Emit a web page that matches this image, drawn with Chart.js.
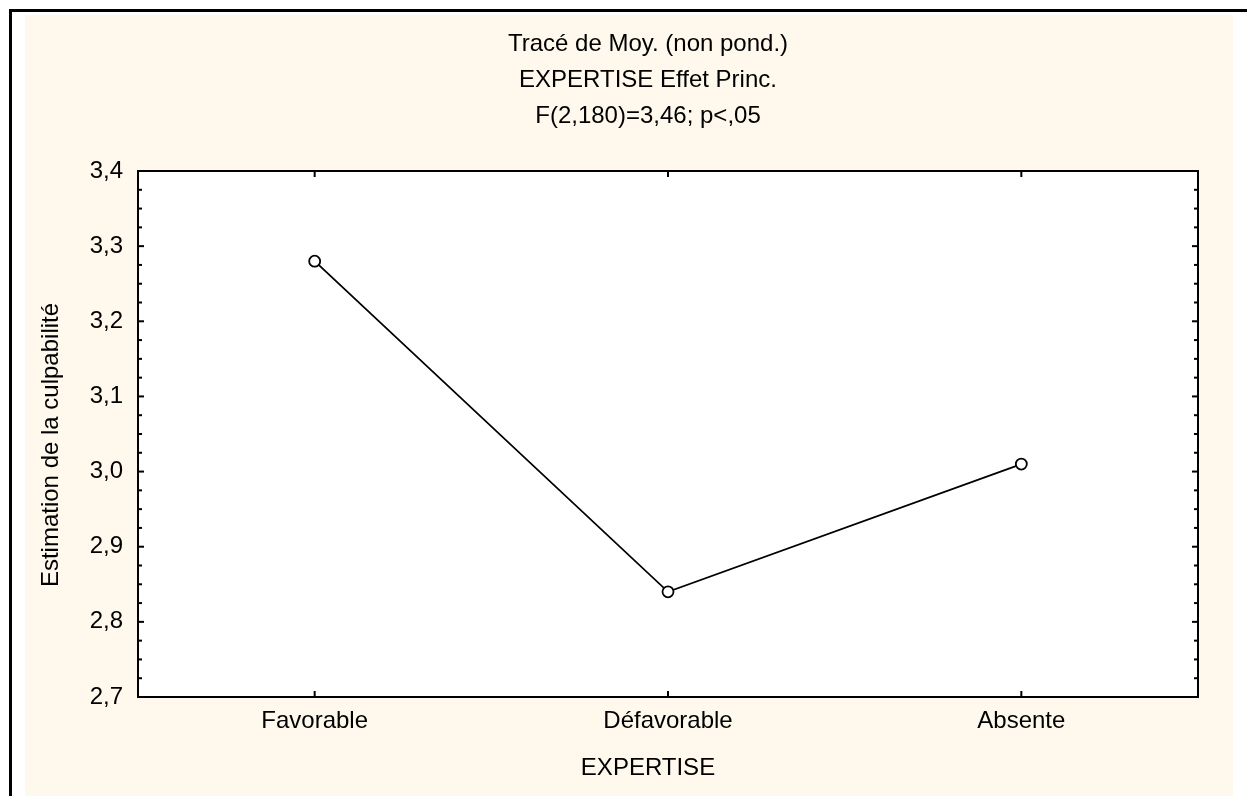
<!DOCTYPE html>
<html>
<head>
<meta charset="utf-8">
<script src="https://cdn.jsdelivr.net/npm/chart.js@4.4.1/dist/chart.umd.min.js"></script>
<style>
  html, body { margin: 0; padding: 0; background: #fff; overflow: hidden; width: 1247px; height: 796px; }
  #frame { position: absolute; left: 9px; top: 9px; width: 1300px; height: 900px; border-left: 3px solid #000; border-top: 3px solid #000; }
  #paper { position: absolute; left: 25px; top: 15px; width: 1208px; height: 800px; background: #fff9ed; }
  #chart { position: absolute; left: 0; top: 0; }
</style>
</head>
<body>
<div id="frame"></div>
<div id="paper"></div>
<canvas id="chart" width="1266" height="796"></canvas>
<script>
const titleLines = ['Tracé de Moy. (non pond.)', 'EXPERTISE Effet Princ.', 'F(2,180)=3,46; p<,05'];
const categories = ['Favorable', 'Défavorable', 'Absente'];
const means = [3.28, 2.84, 3.01];
const yTicks = [2.7, 2.8, 2.9, 3.0, 3.1, 3.2, 3.3, 3.4];
const yTickLabels = ['2,7', '2,8', '2,9', '3,0', '3,1', '3,2', '3,3', '3,4'];
const xTitle = 'EXPERTISE';
const yTitle = 'Estimation de la culpabilité';

const FONT = "'Liberation Sans', Arial, sans-serif";
Chart.defaults.font.family = FONT;
Chart.defaults.color = '#000';

// white plot box, black frame and inward ticks on every side
const plotFrame = {
  id: 'plotFrame',
  beforeDraw(chart) {
    const { ctx, chartArea: a } = chart;
    ctx.save();
    ctx.fillStyle = '#fff';
    ctx.fillRect(a.left, a.top, a.right - a.left, a.bottom - a.top);
    ctx.restore();
  },
  afterDatasetsDraw(chart) {
    const { ctx, chartArea: a } = chart;
    const y = chart.scales.y, x = chart.scales.x;
    ctx.save();
    ctx.strokeStyle = '#000';
    ctx.lineWidth = 2;
    const tick = (x0, y0, x1, y1) => { ctx.beginPath(); ctx.moveTo(x0, y0); ctx.lineTo(x1, y1); ctx.stroke(); };
    for (let i = 0; i < yTicks.length; i++) {
      const py = y.getPixelForValue(yTicks[i]);
      tick(a.left, py, a.left + 6, py);
      tick(a.right, py, a.right - 6, py);
      if (i < yTicks.length - 1) {
        const step = (yTicks[i + 1] - yTicks[i]) / 4;
        for (let k = 1; k < 4; k++) {
          const my = y.getPixelForValue(yTicks[i] + k * step);
          tick(a.left, my, a.left + 4, my);
          tick(a.right, my, a.right - 4, my);
        }
      }
    }
    categories.forEach((c, i) => {
      const px = x.getPixelForValue(i);
      tick(px, a.bottom, px, a.bottom - 6);
      tick(px, a.top, px, a.top + 6);
    });
    ctx.strokeRect(a.left, a.top, a.right - a.left, a.bottom - a.top);
    ctx.restore();
  },
  afterDraw(chart) {
    // axis titles: x centred under the whole chart like the heading,
    // y a little below the middle of the plot box
    const { ctx, chartArea: a } = chart;
    const tb = chart.titleBlock;
    const cx = (tb.left + tb.right) / 2;
    ctx.save();
    ctx.font = '24px ' + FONT;
    ctx.fillStyle = '#000';
    ctx.textAlign = 'center';
    ctx.textBaseline = 'middle';
    ctx.fillText(xTitle, cx, chart.scales.x.bottom - 28);
    ctx.translate(chart.scales.y.left + 21, (a.top + a.bottom) / 2 + 11);
    ctx.rotate(-Math.PI / 2);
    ctx.fillText(yTitle, 0, 0);
    ctx.restore();
  }
};

new Chart(document.getElementById('chart'), {
  type: 'line',
  data: {
    labels: categories,
    datasets: [{
      data: means,
      borderColor: '#000',
      borderWidth: 1.8,
      pointRadius: 5.5,
      pointBorderWidth: 1.8,
      pointBackgroundColor: '#fff',
      pointBorderColor: '#000',
      tension: 0
    }]
  },
  options: {
    responsive: false,
    animation: false,
    devicePixelRatio: 1,
    layout: { padding: { left: 30, right: 0, top: 0, bottom: 0 } },
    plugins: {
      legend: { display: false },
      tooltip: { enabled: false },
      title: {
        display: true,
        text: titleLines,
        color: '#000',
        font: { size: 24, weight: 'normal', lineHeight: 36.25 / 24 },
        padding: { top: 25.9, bottom: 36.35 }
      }
    },
    scales: {
      x: {
        offset: true,
        grid: { display: false, drawTicks: false },
        border: { display: false },
        ticks: { font: { size: 24 }, padding: 10, color: '#000' },
        afterFit: s => { s.height = 99; }
      },
      y: {
        min: 2.7,
        max: 3.4,
        grid: { display: false, drawTicks: false },
        border: { display: false },
        ticks: {
          stepSize: 0.1,
          font: { size: 24 },
          padding: 15,
          color: '#000',
          callback: v => {
            const i = yTicks.findIndex(t => Math.abs(t - v) < 1e-6);
            return i >= 0 ? yTickLabels[i] : '';
          }
        },
        afterFit: s => { s.width = 108; }
      },
      yRight: {
        position: 'right',
        min: 2.7,
        max: 3.4,
        grid: { display: false, drawTicks: false },
        border: { display: false },
        ticks: { display: false },
        afterFit: s => { s.width = 68; }
      }
    }
  },
  plugins: [plotFrame]
});
</script>
</body>
</html>
